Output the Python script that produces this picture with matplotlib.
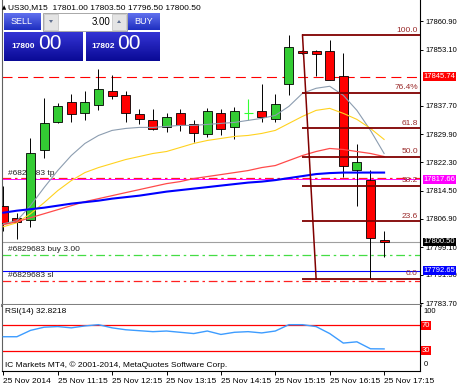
import numpy as np
import matplotlib.pyplot as plt
import matplotlib.colors as mcolors
from matplotlib.patches import Rectangle, Polygon

plt.rcParams['font.family'] = ['Liberation Sans', 'DejaVu Sans']

# US30 M15, 25 Nov 2014 10:15 .. 17:15
opens = [17810.42, 17806.99, 17806.58, 17825.78, 17833.27, 17838.76, 17835.85, 17837.85,
         17841.69, 17840.79, 17835.58, 17833.74, 17831.90, 17835.85, 17832.64, 17829.90,
         17835.74, 17831.90, 17835.85, 17836.29, 17834.21, 17843.81, 17852.67, 17852.67,
         17852.67, 17845.89, 17820.21, 17817.47, 17801.00]
highs = [17815.91, 17808.50, 17828.80, 17839.77, 17838.40, 17841.06, 17841.69, 17847.92,
         17846.08, 17841.69, 17836.95, 17836.95, 17835.74, 17836.95, 17833.74, 17837.22,
         17836.95, 17837.39, 17839.69, 17843.81, 17840.87, 17857.06, 17852.94, 17852.94,
         17855.69, 17852.04, 17827.34, 17820.21, 17803.50]
lows = [17803.56, 17801.36, 17804.66, 17823.59, 17832.91, 17833.27, 17833.74, 17836.67,
        17839.69, 17833.27, 17832.83, 17830.99, 17830.53, 17830.72, 17827.78, 17829.16,
        17829.62, 17828.72, 17833.74, 17833.27, 17833.27, 17840.60, 17851.98, 17845.81,
        17844.71, 17818.38, 17810.42, 17790.47, 17796.50]
closes = [17805.75, 17805.89, 17824.96, 17832.91, 17837.66, 17835.58, 17838.76, 17842.43,
          17840.32, 17835.85, 17834.21, 17831.46, 17834.64, 17832.37, 17830.25, 17836.29,
          17831.46, 17836.29, 17835.85, 17834.64, 17838.13, 17853.68, 17852.12, 17851.76,
          17844.71, 17821.39, 17822.30, 17801.45, 17800.50]

ma_gray = [17805.48, 17806.30, 17810.42, 17815.36, 17820.02, 17824.14, 17827.43, 17829.62,
           17831.00, 17831.54, 17831.82, 17831.82, 17832.09, 17832.37, 17832.37, 17832.64,
           17832.92, 17833.19, 17833.74, 17834.29, 17835.11, 17837.58, 17841.15, 17842.52,
           17843.07, 17840.60, 17836.48, 17831.00, 17824.69]
ma_yellow = [17804.66, 17805.75, 17808.22, 17811.24, 17814.53, 17817.28, 17819.47, 17820.84,
             17821.94, 17823.04, 17823.86, 17824.69, 17825.23, 17826.33, 17827.43, 17828.25,
             17828.80, 17829.35, 17829.62, 17830.17, 17831.00, 17832.92, 17834.84, 17836.48,
             17837.03, 17835.66, 17834.01, 17831.54, 17828.53]
ma_red = [17805.21, 17806.03, 17807.13, 17808.22, 17809.32, 17810.42, 17811.52, 17812.34,
          17813.16, 17813.99, 17814.81, 17815.63, 17816.45, 17817.00, 17817.83, 17818.38,
          17818.92, 17819.47, 17820.02, 17820.84, 17821.39, 17822.77, 17824.14, 17825.23,
          17826.06, 17825.78, 17825.23, 17824.69, 17823.86]
ma_blue = [17808.50, 17809.05, 17809.46, 17809.87, 17810.42, 17810.97, 17811.38, 17811.79,
           17812.34, 17812.75, 17813.16, 17813.71, 17814.26, 17814.67, 17815.08, 17815.49,
           17815.91, 17816.32, 17816.73, 17817.00, 17817.41, 17817.96, 17818.51, 17819.06,
           17819.33, 17819.47, 17819.47, 17819.47, 17819.47]
rsi = [52, 52, 62, 67, 68, 66, 69, 71, 66, 63, 61.5, 60, 61, 59, 57, 61, 55.6, 59, 60, 58,
       61, 71, 71, 68, 57, 42, 44, 33, 32.8218]

time_labels = ['25 Nov 2014', '25 Nov 11:15', '25 Nov 12:15', '25 Nov 13:15',
               '25 Nov 14:15', '25 Nov 15:15', '25 Nov 16:15', '25 Nov 17:15']
price_ticks = [17860.90, 17853.10, 17837.70, 17829.90, 17822.30, 17814.50,
               17806.90, 17799.10, 17791.50, 17783.70]

fib_high, fib_low = 17857.06, 17790.47
fib_ratios = [0.0, 0.236, 0.382, 0.5, 0.618, 0.764, 1.0]
fib_texts = ['0.0', '23.6', '38.2', '50.0', '61.8', '76.4%', '100.0']

alert_price = 17845.74
tp_price, tp_line2 = 17817.91, 17817.66
bid_price = 17800.50
buy_price = 17796.98
blue_price = 17792.65
sl_price = 17789.84

W, H = 460, 387
fig = plt.figure(figsize=(4.6, 3.87), dpi=100)


def fbox(x0, y0, x1, y1):
    return [x0 / W, 1 - y1 / H, (x1 - x0) / W, (y1 - y0) / H]


ax = fig.add_axes(fbox(2, 0, 420, 305))
rax = fig.add_axes(fbox(2, 305, 420, 371))
xlim = ((2 - 3.3) / 13.6, (420 - 3.3) / 13.6)
lab_fs = 5.5

# ---- main chart ----
n = len(opens)
x = np.arange(n)
for i in range(n):
    o, h, l, c = opens[i], highs[i], lows[i], closes[i]
    if o == c:
        ax.vlines(i, l, h, color='#33ff33', lw=0.8, zorder=3)
        ax.hlines(o, i - 0.33, i + 0.33, color='#33ff33', lw=0.8, zorder=3)
        continue
    ax.vlines(i, l, h, color='black', lw=0.7, zorder=3)
    col = '#33cc33' if c > o else '#ff0000'
    ax.add_patch(Rectangle((i - 0.33, min(o, c)), 0.66, max(abs(c - o), 0.25),
                           fc=col, ec='black', lw=0.6, zorder=4))

ax.plot(x, ma_gray, color='#8c9db0', lw=0.8, zorder=5)
ax.plot(x, ma_yellow, color='#ffd21f', lw=0.8, zorder=5)
ax.plot(x, ma_red, color='#ff4a4a', lw=0.9, zorder=5)
ax.plot(x, ma_blue, color='#0000ff', lw=1.5, zorder=5)

dd = (0, (7, 3, 2, 3))
ax.axhline(alert_price, color='#ff0000', lw=0.8, ls=(0, (9, 5)), zorder=2)
ax.axhline(tp_price, color='#ff2020', lw=0.9, ls=dd, zorder=2)
ax.axhline(tp_line2, color='#ff00ff', lw=0.7, zorder=2)
ax.axhline(bid_price, color='#a0a0a0', lw=0.8, zorder=2)
ax.axhline(buy_price, color='#44dd44', lw=0.9, ls=dd, zorder=2)
ax.axhline(blue_price, color='#0000ff', lw=0.8, zorder=2)
ax.axhline(sl_price, color='#ff2020', lw=0.9, ls=dd, zorder=2)

yt = ax.get_yaxis_transform()
for txt, pr in [('#6829683 tp', tp_price), ('#6829683 buy 3.00', buy_price),
                ('#6829683 sl', sl_price)]:
    ax.text(0.014, pr + 0.45, txt, transform=yt, fontsize=6, color='#222222',
            va='bottom', ha='left', zorder=2.6)

# fibonacci retracement
fib_col = '#800000'
for r, t in zip(fib_ratios, fib_texts):
    p = fib_low + r * (fib_high - fib_low)
    ax.plot([22, xlim[1]], [p, p], color=fib_col, lw=1.3, zorder=6, solid_capstyle='butt')
    ax.text(0.995, p + 0.4, t, transform=yt, fontsize=6, color='#9a2a2a',
            ha='right', va='bottom', zorder=6)
ax.plot([22, 23], [fib_high, fib_low], color=fib_col, lw=1.1, zorder=6)

ax.set_xlim(*xlim)
ax.set_ylim(17783.26, 17866.66)
ax.set_xticks([])
ax.yaxis.tick_right()
ax.set_yticks(price_ticks)
ax.set_yticklabels(['%.2f' % v for v in price_ticks])
ax.tick_params(axis='y', direction='out', length=2.5, width=0.7, pad=1.2, labelsize=lab_fs)
ax.spines['top'].set_visible(False)
ax.spines['left'].set_color('#606060')
ax.spines['right'].set_linewidth(0.8)
ax.spines['bottom'].set_color('#808080')
ax.spines['bottom'].set_linewidth(2.2)

for pr, fc in [(alert_price, '#ff0000'), (tp_line2, '#ff00ff'),
               (bid_price, '#000000'), (blue_price, '#0000ff')]:
    ax.annotate('%.2f' % pr, xy=(1, pr), xycoords=yt, xytext=(2.6, 0),
                textcoords='offset points', fontsize=lab_fs, color='white', va='center',
                ha='left', annotation_clip=False, zorder=7,
                bbox=dict(boxstyle='square,pad=0.12', fc=fc, ec='none'))

# ---- RSI panel ----
rax.plot(x, rsi, color='#3d9cff', lw=1.0, zorder=3)
rax.axhline(70, color='#ff0000', lw=0.9, zorder=2)
rax.axhline(30, color='#ff0000', lw=0.9, zorder=2)
rax.set_xlim(*xlim)
rax.set_ylim(-2, 102)
rax.set_yticks([])
rax.set_xticks(range(0, n, 4))
rax.set_xticklabels(time_labels)
for lab in rax.get_xticklabels():
    lab.set_ha('left')
rax.tick_params(axis='x', direction='out', length=3, width=0.7, pad=2, labelsize=6)
rax.spines['top'].set_visible(False)
rax.spines['left'].set_color('#606060')
rax.spines['right'].set_linewidth(0.8)
rax.spines['bottom'].set_linewidth(0.8)
ryt = rax.get_yaxis_transform()
rax.text(1.008, 91, '100', transform=ryt, fontsize=lab_fs, va='center', ha='left')
rax.text(1.008, 8, '0', transform=ryt, fontsize=lab_fs, va='center', ha='left')
for v in (70, 30):
    rax.text(1.005, v, str(v), transform=ryt, fontsize=lab_fs, color='white', va='center',
             ha='left', bbox=dict(boxstyle='square,pad=0.12', fc='#ff0000', ec='none'))
rax.text(0.008, 0.9, 'RSI(14) 32.8218', transform=rax.transAxes, fontsize=6, va='center')
rax.text(0.008, 0.09, 'IC Markets MT4, \u00a9 2001-2014, MetaQuotes Software Corp.',
         transform=rax.transAxes, fontsize=6, va='center')

# ---- one-click trading panel overlay ----
ov = fig.add_axes([0, 0, 1, 1], zorder=10)
ov.patch.set_alpha(0)
ov.axis('off')


def grad_box(x0, y0, x1, y1, c_top, c_bot):
    top = np.array(mcolors.to_rgb(c_top))
    bot = np.array(mcolors.to_rgb(c_bot))
    t = np.linspace(0, 1, 32)[:, None]
    img = (top * (1 - t) + bot * t)[:, None, :]
    ov.imshow(img, extent=(x0, x1, y1, y0), aspect='auto', interpolation='bilinear', zorder=1)


ov.text(2, 8, '\u25b2', fontsize=4, va='center', ha='left', family=['DejaVu Sans'])
ov.text(8, 8, 'US30,M15  17801.00 17803.50 17796.50 17800.50', fontsize=6,
        va='center', ha='left')

grad_box(4, 13, 41, 30, '#6070ee', '#1f2fc0')
grad_box(128, 13, 160, 30, '#6070ee', '#1f2fc0')
grad_box(4, 32, 83, 61, '#3434d4', '#0a0a96')
grad_box(86, 32, 160, 61, '#3434d4', '#0a0a96')
ov.text(22, 21.5, 'SELL', fontsize=6.5, color='white', ha='center', va='center')
ov.text(144, 21.5, 'BUY', fontsize=6.5, color='white', ha='center', va='center')

ov.add_patch(Rectangle((43, 13), 84, 18, fc='white', ec='#a8a8a8', lw=0.7, zorder=2))
ov.add_patch(Rectangle((44, 14), 14, 16, fc='#e4e4e4', ec='#c0c0c0', lw=0.5, zorder=3))
ov.add_patch(Rectangle((112, 14), 14, 16, fc='#e4e4e4', ec='#c0c0c0', lw=0.5, zorder=3))
ov.add_patch(Polygon([(49, 20), (53, 20), (51, 23)], fc='#607090', zorder=4))
ov.add_patch(Polygon([(117, 23), (121, 23), (119, 20)], fc='#607090', zorder=4))
ov.text(110, 22, '3.00', fontsize=7, ha='right', va='center', zorder=4)

ov.text(11, 48, '17800', fontsize=6, color='white', ha='left', va='baseline',
        fontweight='bold', zorder=3)
ov.text(38, 49, '00', fontsize=15, color='white', ha='left', va='baseline', zorder=3)
ov.text(91, 48, '17802', fontsize=6, color='white', ha='left', va='baseline',
        fontweight='bold', zorder=3)
ov.text(117, 49, '00', fontsize=15, color='white', ha='left', va='baseline', zorder=3)

ov.set_xlim(0, W)
ov.set_ylim(H, 0)

fig.savefig('out.png', dpi=100)
